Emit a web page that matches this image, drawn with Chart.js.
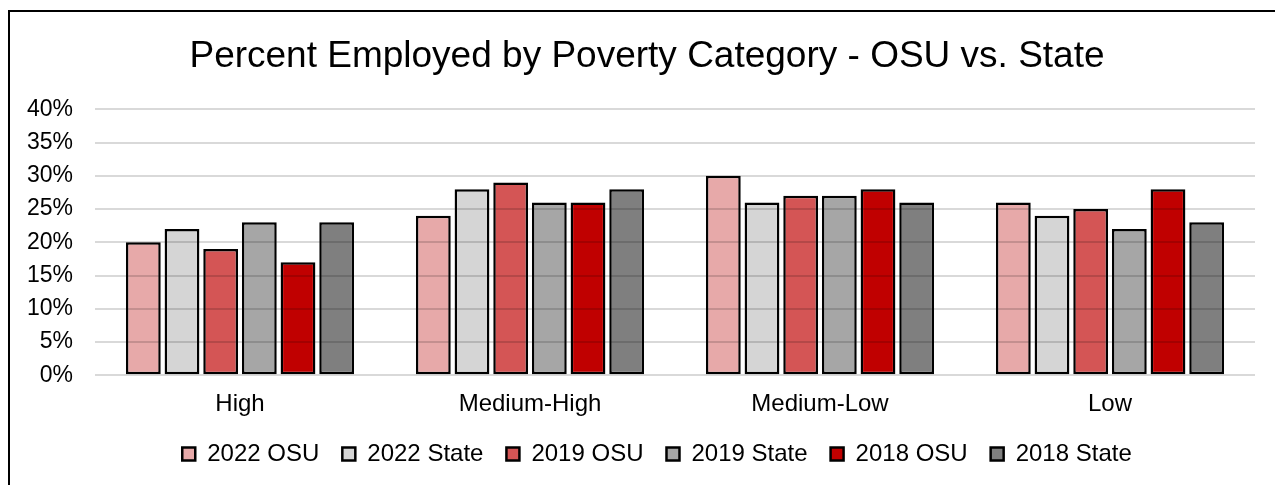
<!DOCTYPE html>
<html>
<head>
<meta charset="utf-8">
<script src="https://cdn.jsdelivr.net/npm/chart.js@4"></script>
<style>
  html, body { margin: 0; padding: 0; background: #fff; }
  #wrap { position: relative; width: 1275px; height: 485px; overflow: hidden; }
  #frame { position: absolute; left: 8px; top: 10px; width: 1400px; height: 600px;
           border-left: 2px solid #000; border-top: 2px solid #000; pointer-events: none; }
  canvas { position: absolute; left: 0; top: 0; }
</style>
</head>
<body>
<div id="wrap">
  <canvas id="barChart" width="1275" height="485"></canvas>
  <div id="frame"></div>
</div>
<script>
// Percent employed by poverty category
const categories = ['High', 'Medium-High', 'Medium-Low', 'Low'];
const osu2022   = [20, 24, 30, 26];
const state2022 = [22, 28, 26, 24];
const osu2019   = [19, 29, 27, 25];
const state2019 = [23, 26, 27, 22];
const osu2018   = [17, 26, 28, 28];
const state2018 = [23, 28, 26, 23];

const seriesNames = ['2022 OSU', '2022 State', '2019 OSU', '2019 State', '2018 OSU', '2018 State'];
const seriesColors = ['#E7A9A9', '#D5D5D5', '#D45555', '#A6A6A6', '#C00000', '#7F7F7F'];
const seriesValues = [osu2022, state2022, osu2019, state2019, osu2018, state2018];

const FONT = "'Liberation Sans', Arial, sans-serif";

// nudge title and legend a bit right, like the original sheet
const shiftBlocks = {
  id: 'shiftBlocks',
  afterLayout(chart) {
    if (chart.titleBlock) { chart.titleBlock.left += 7; chart.titleBlock.right += 7; }
    if (chart.legend) { chart.legend.left += 17; chart.legend.right += 17; }
  }
};

new Chart(document.getElementById('barChart').getContext('2d'), {
  type: 'bar',
  data: {
    labels: categories,
    datasets: seriesValues.map((vals, i) => ({
      label: seriesNames[i],
      data: vals,
      backgroundColor: seriesColors[i],
      borderColor: '#000',
      borderWidth: 2.5,
      borderSkipped: false
    }))
  },
  plugins: [shiftBlocks],
  options: {
    responsive: false,
    animation: false,
    layout: { padding: { left: 25, right: 20, top: 0, bottom: 9 } },
    plugins: {
      title: {
        display: true,
        text: 'Percent Employed by Poverty Category - OSU vs. State',
        color: '#000',
        font: { family: FONT, size: 37, weight: 'normal' },
        padding: { top: 35, bottom: 30 }
      },
      legend: {
        position: 'bottom',
        labels: {
          color: '#000',
          font: { family: FONT, size: 24 },
          boxWidth: 13,
          boxHeight: 13,
          padding: 23
        }
      },
      tooltip: { enabled: false }
    },
    scales: {
      x: {
        grid: { display: false },
        border: { display: false },
        ticks: { color: '#000', font: { family: FONT, size: 24 }, padding: 7 },
        afterFit: scale => { scale.height -= 7; }
      },
      y: {
        min: 0,
        max: 40,
        grid: { color: 'rgba(0,0,0,0.15)', lineWidth: 2, z: 1, drawTicks: false },
        border: { display: false },
        ticks: {
          stepSize: 5,
          color: '#000',
          font: { family: FONT, size: 23 },
          padding: 22,
          callback: v => v + '%'
        },
        afterFit: scale => { scale.width = 70; }
      }
    }
  }
});
</script>
</body>
</html>
